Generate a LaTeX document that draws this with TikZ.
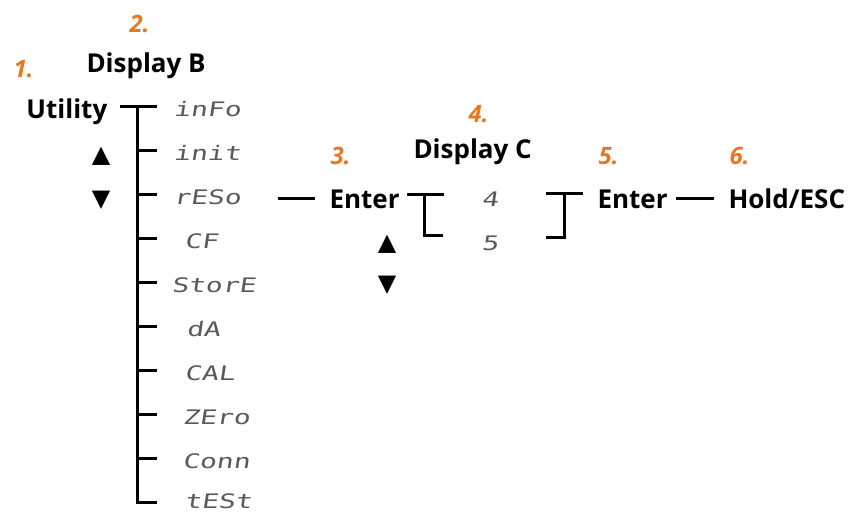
\documentclass[tikz,border=0pt]{standalone}
\usepackage{fontspec}
\setmainfont{Open Sans}
\newfontfamily\segfont[FakeSlant=0.15,FakeStretch=1.4]{DejaVu Sans Mono}
\newfontfamily\symfont{DejaVu Sans}
\usetikzlibrary{calc,positioning}
\definecolor{stepnum}{HTML}{E87722}
\definecolor{seggray}{HTML}{5A5A5A}

\begin{document}
\begin{tikzpicture}[x=1pt,y=-1pt,line width=3pt,
    head/.style={font=\fontsize{26}{30}\selectfont\bfseries,anchor=base west,inner sep=0pt},
    num/.style={font=\fontsize{24}{28}\selectfont\bfseries\itshape,text=stepnum,anchor=base west,inner sep=0pt},
    seg/.style={font=\segfont\fontsize{20}{24}\selectfont,text=seggray,anchor=base west,inner sep=0pt},
    tri/.style={font=\symfont\fontsize{24}{28}\selectfont,inner sep=0pt}]

    \useasboundingbox (0,0) rectangle (855,515);

    \node (n1) [num] at (12,77) {1.};
    \node (n2) [num] at (128,32) {2.};
    \node (n3) [num] at (329,164) {3.};
    \node (n4) [num] at (467,122) {4.};
    \node (n5) [num] at (597,164) {5.};
    \node (n6) [num] at (728,164) {6.};

    \node (dispB) [head] at (85,72) {Display B};
    \node (util) [head] at (25,118) {Utility};
    \node (up1) [tri] at (101,156) {▲};
    \node (down1) [tri] at (101,200) {▼};

    \foreach \lbl/\x/\y [count=\i] in {inFo/172/116,init/172/160,rESo/172/204,CF/183/248,StorE/170/292,dA/185/336,CAL/183/380,ZEro/181/424,Conn/181/468,tESt/183/508} {
        \coordinate (k\i) at (157,{106+44*(\i-1)});
        \node (s\i) [seg] at (\x,\y) {\lbl};
    }
    \coordinate (t0) at (120,106);
    \coordinate (top) at (137,106);

    \draw (t0) -- (k1);
    \draw (top) |- (k10);
    \foreach \i in {2,...,9}
        \draw (top |- k\i) -- (k\i);

    \node (enter1) [head] at (328,208) {Enter};
    \node (up2) [tri] at (387,244) {▲};
    \node (down2) [tri] at (387,285) {▼};
    \node (dispC) [head] at (412,158) {Display C};
    \node (v4) [seg] at (480,206) {4};
    \node (v5) [seg] at (480,250) {5};
    \node (enter2) [head] at (596,208) {Enter};
    \node (hold) [head] at (727,208) {Hold/ESC};

    \coordinate (r1) at (278,198);
    \coordinate (r2) at (315,198);
    \coordinate (h1) at (676,198);
    \coordinate (h2) at (714,198);

    \coordinate (b1) at (407,194);
    \coordinate (b2) at (444,194);
    \coordinate (b3) at (424,194);
    \coordinate (b4) at (443,235);
    \coordinate (c1) at (546,193);
    \coordinate (c2) at (583,193);
    \coordinate (c3) at (564,193);
    \coordinate (c4) at (546,237);

    \path[draw]
        (r1) -- (r2)
        (h1) -- (h2)
        (b1) -- (b2)
        (b3) |- (b4)
        (c1) -- (c2)
        (c3) |- (c4)
    ;
\end{tikzpicture}
\end{document}
